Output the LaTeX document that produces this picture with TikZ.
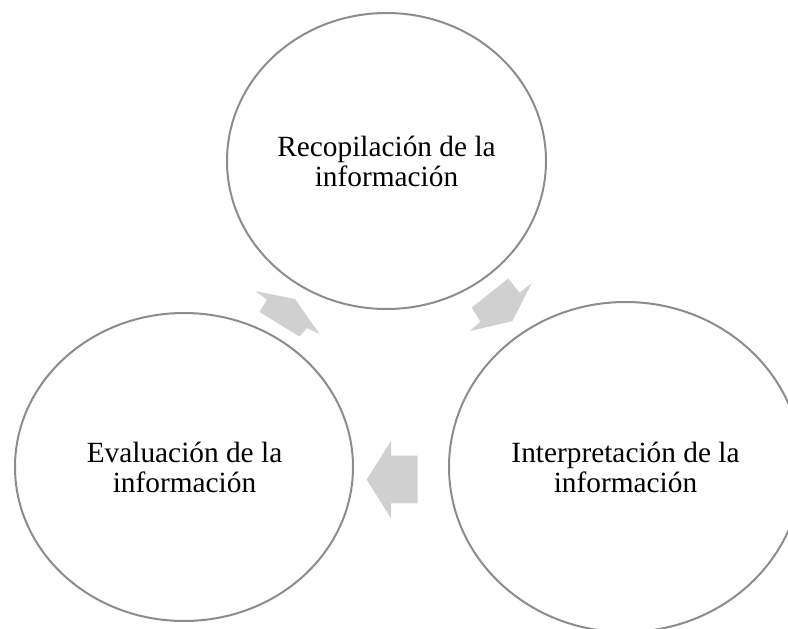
\documentclass[tikz,border=0pt]{standalone}
\usepackage{fontspec}
\setmainfont{Liberation Serif}
\usepackage{tikz}
\usetikzlibrary{positioning}

\begin{document}
\begin{tikzpicture}[x=0.75pt,y=0.75pt,yscale=-1,xscale=1,
  ring/.style={color={rgb, 255:red, 140; green, 140; blue, 140 }, line width=1.5pt},
  blockarrow/.style={fill={rgb, 255:red, 208; green, 208; blue, 208 }, draw=none},
  ringtext/.style={inner sep=0.75pt, align=center, font=\fontsize{22}{22.5}\selectfont}]
\useasboundingbox (0,0) rectangle (788,628);

%Shape: Ellipse [id:top]
\draw [ring] (386.5,161) ellipse (159.5 and 148);
%Shape: Ellipse [id:right]
\draw [ring] (625.5,467) ellipse (176.5 and 165);
%Shape: Ellipse [id:left]
\draw [ring] (184,467) ellipse (169 and 154);

%Shape: Right Arrow [id:toprightarrow]
\fill [blockarrow] (508.3,278.5) -- (519.5,292.7) -- (531.7,283.3) -- (512.2,321.2) -- (470,331) -- (480.3,321.7) -- (471.7,307.5) -- cycle ;
%Shape: Left Arrow [id:bottomarrow]
\fill [blockarrow] (417.7,455.7) -- (391,455.7) -- (391,441) -- (366.7,479.5) -- (391,518.3) -- (391,503.3) -- (417.7,503.3) -- cycle ;
%Shape: Right Arrow [id:topleftarrow]
\fill [blockarrow] (299.5,336.5) -- (307,328) -- (319.5,334) -- (295,299) -- (255,291) -- (267,299.5) -- (259.5,312) -- cycle ;

% Text Node
\node [ringtext] (recopilacion) at (386.5,161) {Recopilación de la\\información};
% Text Node
\node [ringtext] (interpretacion) at (625.5,467) {Interpretación de la\\información};
% Text Node
\node [ringtext] (evaluacion) at (184.5,467) {Evaluación de la\\información};

\end{tikzpicture}
\end{document}
